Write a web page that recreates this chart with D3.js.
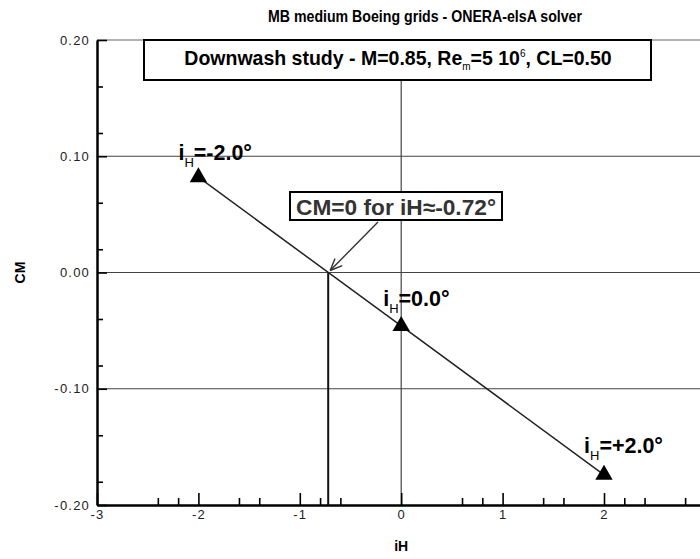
<!DOCTYPE html>
<html>
<head>
<meta charset="utf-8">
<script src="https://cdn.jsdelivr.net/npm/d3@7"></script>
<style>
  html, body { margin: 0; padding: 0; background: #fff; }
  svg { display: block; font-family: "Liberation Sans", Arial, Helvetica, sans-serif; }
</style>
</head>
<body>
<svg id="chart" width="700" height="559"></svg>
<script>
// Pitching moment vs. horizontal tail setting
const iH = [-2, 0, 2];
const CM = [0.082, -0.046, -0.174];
const pointLabels = ["-2.0°", "0.0°", "+2.0°"];
const zeroCrossing = -0.72;

const xMajorTicks = [-3, -2, -1, 0, 1, 2];
const xMinorTicks = [-2.4, -2.2, -1.6, -1.4, -0.8, -0.6, 0.6, 0.8, 1.4, 1.6, 2.2, 2.4, 2.8];
const yMajorTicks = [-0.2, -0.1, 0, 0.1, 0.2];
const yMinorTicks = [0.16, 0.12, 0.06, 0.02, -0.04, -0.08, -0.14, -0.18];
const yGridValues = [0.1, 0, -0.1];
const xGridValues = [0];

const titleText = "MB medium Boeing grids - ONERA-elsA solver";
const xLabel = "iH";
const yLabel = "CM";

const svg = d3.select("#chart");

const x = d3.scaleLinear().domain([-3, 3]).range([97, 705.4]);
const y = d3.scaleLinear().domain([-0.2, 0.2]).range([505, 40]);

const hyphen = f => d => f(d).replace("\u2212", "-");

// frame top and grid lines
const grid = svg.append("g").attr("stroke", "#444").attr("stroke-width", 1.2);
grid.append("line").attr("x1", x(-3)).attr("x2", x(3)).attr("y1", y(0.2)).attr("y2", y(0.2)).attr("stroke", "#666");
grid.selectAll(".hg").data(yGridValues).join("line")
  .attr("x1", x(-3)).attr("x2", x(3))
  .attr("y1", d => y(d)).attr("y2", d => y(d));
grid.selectAll(".vg").data(xGridValues).join("line")
  .attr("x1", d => x(d)).attr("x2", d => x(d))
  .attr("y1", y(0.2)).attr("y2", y(-0.2));

// vertical marker at CM = 0 crossing
svg.append("line")
  .attr("x1", x(zeroCrossing)).attr("x2", x(zeroCrossing))
  .attr("y1", y(0)).attr("y2", y(-0.2))
  .attr("stroke", "#111").attr("stroke-width", 2);

// axes
svg.append("g").attr("transform", `translate(0,${y(-0.2)})`)
  .call(d3.axisBottom(x).tickValues(xMajorTicks).tickFormat(hyphen(d3.format("d")))
    .tickSizeInner(-12).tickSizeOuter(0).tickPadding(5));
svg.append("g").attr("transform", `translate(0,${y(-0.2)})`)
  .call(d3.axisBottom(x).tickValues(xMinorTicks).tickFormat("")
    .tickSizeInner(-7).tickSizeOuter(0))
  .call(g => g.select(".domain").remove());

svg.append("g").attr("transform", `translate(${x(-3)},0)`)
  .call(d3.axisLeft(y).tickValues(yMajorTicks).tickFormat(hyphen(d3.format(".2f")))
    .tickSizeInner(-10).tickSizeOuter(0).tickPadding(7));
svg.append("g").attr("transform", `translate(${x(-3)},0)`)
  .call(d3.axisLeft(y).tickValues(yMinorTicks).tickFormat("")
    .tickSizeInner(-6).tickSizeOuter(0))
  .call(g => g.select(".domain").remove());

svg.selectAll(".domain").attr("stroke", "#000").attr("stroke-width", 2.5);
svg.selectAll(".tick line").attr("stroke", "#000").attr("stroke-width", 1.6);
svg.selectAll(".tick text").attr("font-size", 13).attr("fill", "#222")
  .attr("letter-spacing", 1.2)
  .attr("font-family", "Liberation Sans, Arial, sans-serif");

// data line and markers
const pts = iH.map((v, i) => [v, CM[i]]);
svg.append("path")
  .datum(pts)
  .attr("fill", "none").attr("stroke", "#222").attr("stroke-width", 1.5)
  .attr("d", d3.line().x(d => x(d[0])).y(d => y(d[1])));

svg.selectAll(".pt").data(pts).join("path")
  .attr("transform", d => `translate(${x(d[0])},${y(d[1])})`)
  .attr("d", d3.symbol(d3.symbolTriangle, 130))
  .attr("fill", "#000");

// point labels with subscript
const lblOffsets = [[-20, -17], [-18, -20], [-20, -22]];
pts.forEach((d, i) => {
  const t = svg.append("text")
    .attr("x", x(d[0]) + lblOffsets[i][0])
    .attr("y", y(d[1]) + lblOffsets[i][1])
    .attr("font-size", 21.5).attr("font-weight", "bold").attr("fill", "#000");
  t.append("tspan").text("i");
  t.append("tspan").attr("font-size", 13).attr("font-weight", "normal").attr("fill", "#000")
    .attr("dy", 7).text("H");
  t.append("tspan").attr("dy", -7).text("=" + pointLabels[i]);
});

// annotation box and arrow
const annX = 290, annY = 192, annW = 212, annH = 28;
svg.append("rect").attr("x", annX).attr("y", annY).attr("width", annW).attr("height", annH)
  .attr("fill", "#fff").attr("stroke", "#000").attr("stroke-width", 2);
svg.append("text").attr("x", annX + annW / 2).attr("y", annY + 23)
  .attr("text-anchor", "middle").attr("font-size", 22).attr("font-weight", "bold")
  .attr("fill", "#333").attr("textLength", 200).attr("lengthAdjust", "spacingAndGlyphs")
  .text("CM=0 for iH≈-0.72°");

const ax0 = 378, ay0 = 222, ax1 = x(zeroCrossing) + 2, ay1 = y(0) - 2;
svg.append("line").attr("x1", ax0).attr("y1", ay0).attr("x2", ax1).attr("y2", ay1)
  .attr("stroke", "#333").attr("stroke-width", 1.4);
const ang = Math.atan2(ay0 - ay1, ax0 - ax1);
[0.4, -0.4].forEach(da => {
  svg.append("line").attr("x1", ax1).attr("y1", ay1)
    .attr("x2", ax1 + 13 * Math.cos(ang + da)).attr("y2", ay1 + 13 * Math.sin(ang + da))
    .attr("stroke", "#333").attr("stroke-width", 1.4);
});

// header box
svg.append("rect").attr("x", 144).attr("y", 40).attr("width", 507).attr("height", 40)
  .attr("fill", "#fff").attr("stroke", "#000").attr("stroke-width", 2);
const hdr = svg.append("text").attr("x", 398).attr("y", 65)
  .attr("text-anchor", "middle").attr("font-size", 19.5).attr("font-weight", "bold").attr("fill", "#000");
hdr.append("tspan").text("Downwash study - M=0.85, Re");
hdr.append("tspan").attr("font-size", 10).attr("font-weight", "normal").attr("dy", 5).text("m");
hdr.append("tspan").attr("dy", -5).text("=5 10");
hdr.append("tspan").attr("font-size", 10).attr("font-weight", "normal").attr("dy", -8).text("6");
hdr.append("tspan").attr("dy", 8).text(", CL=0.50");

// title and axis labels
svg.append("text").attr("x", 425).attr("y", 22).attr("text-anchor", "middle")
  .attr("font-size", 16.5).attr("font-weight", "bold")
  .attr("textLength", 314).attr("lengthAdjust", "spacingAndGlyphs").text(titleText);
svg.append("text").attr("x", x(0)).attr("y", 551).attr("text-anchor", "middle")
  .attr("font-size", 14).attr("font-weight", "bold").text(xLabel);
svg.append("text").attr("transform", `translate(25,${y(0)}) rotate(-90)`)
  .attr("text-anchor", "middle").attr("font-size", 14).attr("font-weight", "bold").text(yLabel);
</script>
</body>
</html>
